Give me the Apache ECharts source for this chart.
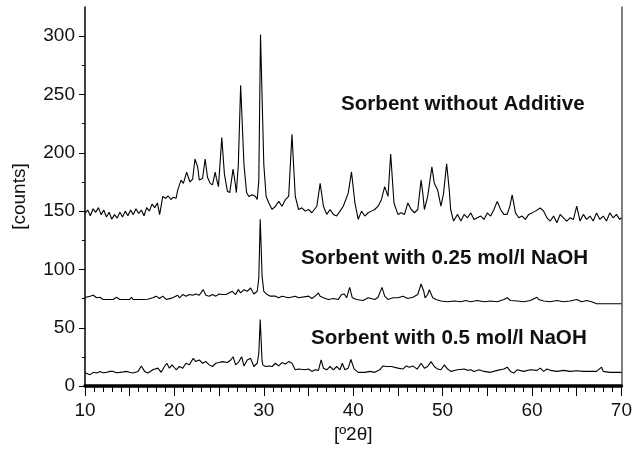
<!DOCTYPE html>
<html>
<head>
<meta charset="utf-8">
<script src="https://cdn.jsdelivr.net/npm/echarts@6/dist/echarts.min.js"></script>
<style>
  html, body { margin: 0; padding: 0; background: #fff; }
  #xrd { width: 635px; height: 449px; }
</style>
</head>
<body>
<div id="xrd"></div>
<script>
// [2theta, counts]
const noAdditive = [
  [10.0,148],[10.3,151],[10.6,146],[10.9,152],[11.2,149],[11.5,153],[11.8,147],[12.1,151],[12.4,145],[12.7,149],
  [13.0,143],[13.3,147],[13.6,144],[13.9,149],[14.2,145],[14.5,150],[14.8,146],[15.1,151],[15.4,147],[15.7,152],
  [16.0,148],[16.3,151],[16.6,146],[16.9,153],[17.2,150],[17.5,156],[17.8,153],[18.1,157],[18.35,147],[18.7,162.6],
  [19.0,161],[19.3,163],[19.6,160],[19.9,162],[20.19,161],[20.37,168],[20.74,176.6],[21.0,173.8],[21.37,183.5],[21.74,175],
  [22.04,177.5],[22.3,194.7],[22.6,188],[22.78,176.7],[23.15,178],[23.44,194.7],[23.7,179],[24.0,173.8],[24.26,172.5],[24.56,183.5],
  [24.7,178],[24.93,171],[25.3,213],[25.59,182],[25.93,167],[26.19,165.9],[26.56,186],[26.78,175],[26.93,165.9],[27.15,190],
  [27.41,258],[27.78,190],[28.07,166],[28.33,162.6],[28.7,164],[29.07,162.6],[29.26,160],[29.44,176],[29.63,301.5],[30.0,190],
  [30.26,162.6],[30.56,157],[30.93,151.5],[31.3,154.2],[31.67,158.4],[32.04,154.2],[32.41,159.8],[32.78,162.6],[33.15,215.8],[33.52,162.6],
  [33.89,151.4],[34.26,152.8],[34.63,150],[35.0,151.4],[35.37,148.6],[35.93,154.2],[36.3,173.8],[36.67,154.2],[37.04,147.2],[37.41,151.4],
  [37.78,147.2],[38.15,145.8],[38.52,150],[38.89,154.2],[39.44,165.4],[39.81,183.6],[40.19,157],[40.56,143],[40.93,150],[41.3,145.8],
  [41.67,148.6],[42.04,150],[42.41,151.4],[42.78,154.2],[43.15,159.8],[43.52,171],[43.89,162.6],[44.19,199],[44.56,157],[45.0,147.2],
  [45.37,148.6],[45.74,147.2],[46.11,157],[46.48,151.4],[46.85,148.6],[47.22,151.4],[47.59,176.6],[47.78,165.4],[47.96,151.4],[48.33,162.6],
  [48.8,188],[49.07,173.8],[49.44,168.2],[49.81,154.2],[50.1,165],[50.45,190.6],[50.74,168.2],[50.9,151.4],[51.22,141.5],[51.67,147.2],
  [52.04,141.5],[52.41,147.2],[52.78,144.3],[53.15,148.5],[53.52,142.9],[53.89,144.3],[54.26,145.8],[54.63,142.9],[55.0,148.5],[55.37,145.8],
  [55.74,151.4],[56.11,158.4],[56.48,151.4],[56.85,147.2],[57.22,147.2],[57.52,154.2],[57.78,164],[58.15,148.5],[58.52,144.3],[58.89,145.8],
  [59.26,142.9],[59.63,147.2],[60.0,148.5],[60.37,150],[60.93,152.7],[61.3,150],[61.67,144.3],[62.04,141.5],[62.41,145.8],[62.78,140.1],
  [63.15,147.2],[63.52,144.3],[63.89,141.5],[64.26,144.3],[64.63,142.9],[65.0,154.2],[65.37,141.5],[65.74,147.2],[66.11,142.9],[66.48,145.8],
  [66.85,141.5],[67.22,148.5],[67.59,142.9],[67.96,145.8],[68.33,141.5],[68.7,148.5],[69.07,144.3],[69.44,147.2],[69.81,142.9],[70.0,144.3]
];
const naoh025 = [
  [10.0,76],[10.56,77.1],[10.93,77.9],[11.3,75.7],[11.67,76.2],[12.04,74.3],[12.6,74.3],[13.15,74.3],[13.52,76.2],[13.89,74.3],
  [14.5,74.3],[15.0,74.3],[15.19,76.2],[15.37,74.3],[16.0,74.3],[16.48,74.3],[17.0,74.5],[17.59,75.7],[17.96,77.1],[18.33,75.1],
  [18.7,77.1],[19.07,74.3],[19.5,75],[19.81,75.7],[20.37,77.9],[20.56,75.7],[20.93,78.5],[21.3,77.1],[21.67,78.5],[22.04,77.9],
  [22.41,79],[22.78,77.9],[23.22,82.7],[23.52,77.9],[23.89,77.1],[24.26,78.5],[24.63,77.1],[25.0,79],[25.37,78.5],[25.74,78.5],
  [26.11,79.9],[26.48,81.3],[26.85,78.5],[27.15,82.7],[27.41,79.9],[27.78,82.7],[28.15,81.3],[28.52,84.1],[28.89,79],[29.26,81.3],
  [29.44,92.5],[29.6,143],[29.81,93.9],[30.0,81.3],[30.37,78.5],[30.74,77.1],[31.3,77.1],[31.67,75.7],[32.04,77.1],[32.78,75.7],
  [33.52,77.1],[33.89,75.7],[35.0,77.1],[35.37,75.1],[35.74,77.1],[36.11,79.9],[36.3,77.1],[36.67,75.7],[37.22,74.3],[37.78,75.1],
  [38.33,74.3],[38.7,78.5],[39.0,79],[39.26,75.7],[39.6,84.6],[39.9,75.7],[40.37,74.3],[40.56,75.1],[41.11,73.4],[41.67,75.7],
  [42.41,74.3],[42.78,76.2],[43.22,84.6],[43.52,77.1],[43.89,74.3],[44.44,75.7],[45.0,75.7],[45.56,77.1],[46.11,75.1],[46.67,76.2],
  [47.22,78.5],[47.59,87.5],[47.89,81.3],[48.04,75.7],[48.33,78.5],[48.52,82.7],[48.89,75.7],[49.26,74.3],[49.81,72.9],[50.56,72.3],
  [51.3,72.9],[52.04,72.3],[52.59,73.4],[53.15,72.3],[53.89,73.4],[54.63,72.3],[55.37,72.9],[56.11,72.3],[56.85,74.3],[57.22,75.7],
  [57.41,77.1],[57.59,73.4],[58.33,72.9],[59.07,72.3],[59.81,73.4],[60.55,76.2],[60.74,74.3],[61.3,72.9],[62.04,72.3],[62.78,73.4],
  [63.52,72.3],[64.26,72.9],[65.0,74.3],[65.55,72.3],[66.11,73.4],[66.67,72.3],[67.22,70.6],[67.96,70.6],[68.7,70.6],[70.0,70.6]
];
const naoh05 = [
  [10.0,11.5],[10.2,12.6],[10.56,9.8],[10.93,11.8],[11.3,11.2],[11.67,12.6],[12.0,11.5],[12.41,11.8],[12.8,12.6],[13.15,12.6],
  [13.5,11.5],[13.89,11.8],[14.3,12.2],[14.63,12.6],[15.0,11.8],[15.37,11.2],[15.93,12.6],[16.3,17.3],[16.67,12.6],[17.04,11.2],
  [17.59,14.0],[18.15,15.4],[18.52,11.8],[18.89,16.8],[19.15,19.6],[19.44,15.4],[19.74,18.2],[20.19,14.0],[20.56,16.8],[20.93,15.4],
  [21.3,19.6],[21.67,18.2],[22.11,23.8],[22.41,21.0],[22.78,22.4],[23.15,19.6],[23.52,21.0],[23.89,18.2],[24.26,16.8],[24.63,19.6],
  [25.0,20.2],[25.37,21.0],[25.93,20.2],[26.3,22.4],[26.56,25.2],[26.85,18.2],[27.22,21.0],[27.52,25.2],[27.78,17.3],[28.15,22.4],
  [28.52,23.8],[28.89,16.8],[29.26,19.6],[29.44,28.0],[29.6,57],[29.8,22],[29.89,18.2],[30.19,16.8],[30.56,17.3],[30.93,16.8],
  [31.3,19.6],[31.67,17.3],[32.04,20.2],[32.41,19.0],[32.78,21.0],[33.15,19.6],[33.52,14.0],[33.89,14.6],[34.63,14.0],[35.0,14.6],
  [35.37,12.6],[35.74,14.0],[36.11,13.5],[36.41,22.4],[36.67,15.4],[37.04,14.0],[37.41,16.8],[37.78,14.0],[38.15,16.8],[38.52,14.0],
  [38.78,19.6],[39.07,14.0],[39.44,15.4],[39.74,22.8],[40.11,14.6],[40.56,11.8],[41.3,11.8],[41.85,12.6],[42.41,11.8],[42.96,14.0],
  [43.33,17.3],[43.7,16.8],[44.26,16.8],[45.0,15.4],[45.55,14.6],[45.93,17.3],[46.3,16.2],[46.67,17.3],[47.15,14.6],[47.59,19.6],
  [47.96,15.4],[48.33,16.8],[48.7,21.0],[49.07,16.8],[49.44,14.6],[49.81,14.0],[50.19,18.2],[50.56,14.6],[50.93,12.6],[51.67,14.0],
  [52.41,14.6],[52.78,13.5],[53.15,14.0],[53.52,12.6],[54.07,14.0],[54.63,12.6],[55.37,11.8],[56.11,13.5],[56.85,14.6],[57.22,16.2],
  [57.59,12.6],[57.96,11.2],[58.33,14.0],[59.07,12.6],[59.81,14.0],[60.55,13.5],[60.93,15.4],[61.3,12.6],[61.67,14.6],[62.04,13.5],
  [62.78,12.6],[63.52,13.5],[64.26,12.6],[65.0,13.2],[65.74,12.6],[66.48,12.6],[67.22,12.6],[67.78,16.2],[67.96,12.6],[68.7,11.8],[70.0,11.8]
];
const xLabels = [10, 20, 30, 40, 50, 60, 70];
const yLabels = [0, 50, 100, 150, 200, 250, 300];
const yMinor = [25, 75, 125, 175, 225, 275];
const seriesNames = ["Sorbent without Additive", "Sorbent with 0.25 mol/l NaOH", "Sorbent with 0.5 mol/l NaOH"];

const myChart = echarts.init(document.getElementById("xrd"));
const tickFont = '"Liberation Sans Narrow", "Liberation Sans", Arial, sans-serif';
const noteFont = 'bold 20.6px "Liberation Sans", Arial, sans-serif';
const traceLine = { color: "#000", width: 1.1 };

const option = {
  animation: false,
  backgroundColor: "#fff",
  grid: { left: 85, right: 10, top: 7, bottom: 56 },
  xAxis: [
    {
      type: "value",
      min: 10,
      max: 70,
      interval: 5,
      name: "[º2θ]",
      nameLocation: "middle",
      nameGap: 38,
      nameTextStyle: { color: "#111", fontSize: 19, fontFamily: tickFont },
      axisLine: { lineStyle: { color: "#000", width: 1.5 } },
      axisTick: { length: 10, lineStyle: { color: "#000", width: 1 } },
      minorTick: { show: true, splitNumber: 5, length: 6, lineStyle: { color: "#000", width: 1 } },
      axisLabel: { customValues: xLabels, margin: 15, color: "#111", fontSize: 19, fontFamily: tickFont },
      splitLine: { show: false },
    },
    {
      type: "value",
      position: "top",
      min: 10,
      max: 70,
      axisLine: { show: true, lineStyle: { color: "#000", width: 3.5 } },
      axisTick: { show: false },
      axisLabel: { show: false },
      splitLine: { show: false },
    },
  ],
  yAxis: [
    {
      type: "value",
      min: 0,
      max: 325,
      interval: 50,
      name: "[counts]",
      nameLocation: "middle",
      nameGap: 56,
      nameTextStyle: { color: "#111", fontSize: 19, fontFamily: tickFont },
      axisLine: { show: true, lineStyle: { color: "#000", width: 1.5 } },
      axisTick: { show: true, customValues: yLabels, length: 6, lineStyle: { color: "#000", width: 1 } },
      axisLabel: { customValues: yLabels, margin: 10, color: "#111", fontSize: 19, fontFamily: tickFont },
      splitLine: { show: false },
    },
    {
      // minor ticks on the left axis
      type: "value",
      position: "left",
      min: 0,
      max: 325,
      axisLine: { show: false },
      axisTick: { show: true, customValues: yMinor, length: 3, lineStyle: { color: "#000", width: 1 } },
      axisLabel: { show: false },
      splitLine: { show: false },
    },
    {
      type: "value",
      position: "right",
      min: 0,
      max: 325,
      axisLine: { show: true, lineStyle: { color: "#555", width: 1.5 } },
      axisTick: { show: false },
      axisLabel: { show: false },
      splitLine: { show: false },
    },
  ],
  series: [
    { name: seriesNames[0], type: "line", data: noAdditive, showSymbol: false, lineStyle: traceLine },
    { name: seriesNames[1], type: "line", data: naoh025, showSymbol: false, lineStyle: traceLine },
    { name: seriesNames[2], type: "line", data: naoh05, showSymbol: false, lineStyle: traceLine },
  ],
  graphic: [
    { type: "text", left: 341, top: 94, style: { text: seriesNames[0], font: noteFont, fill: "#111" } },
    { type: "text", left: 301, top: 248, style: { text: seriesNames[1], font: noteFont, fill: "#111" } },
    { type: "text", left: 311, top: 328, style: { text: seriesNames[2], font: noteFont, fill: "#111" } },
  ],
};
myChart.setOption(option);
</script>
</body>
</html>
